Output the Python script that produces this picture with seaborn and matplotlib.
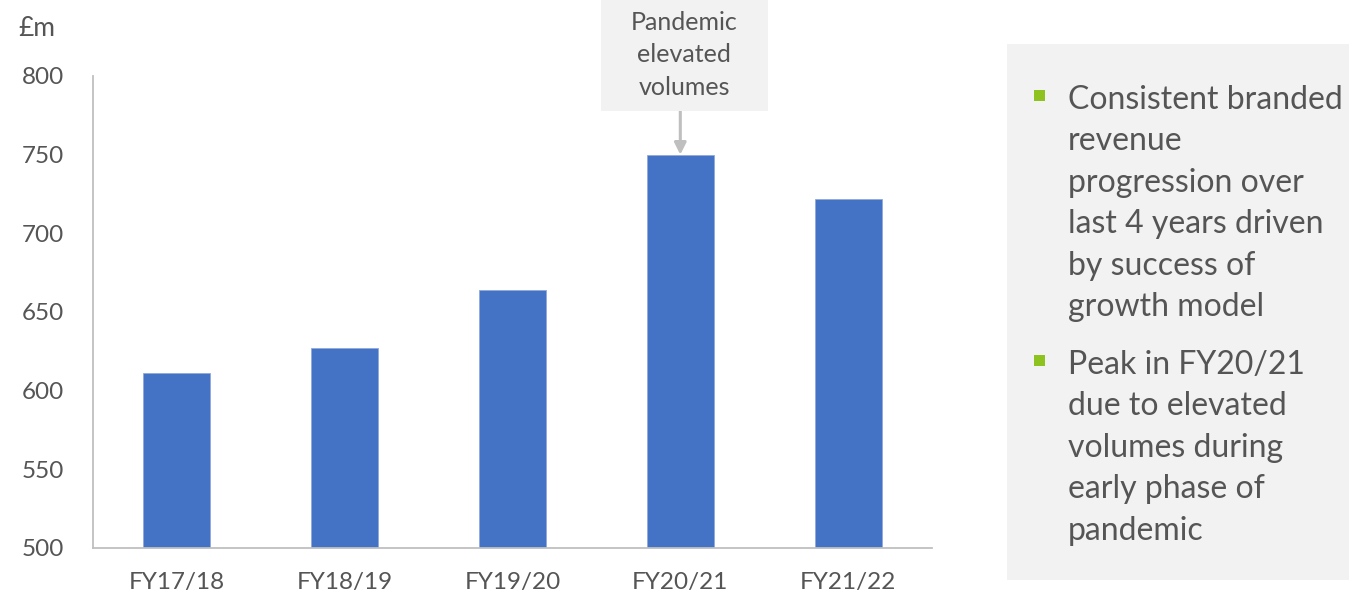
import matplotlib
matplotlib.use("Agg")
import matplotlib.pyplot as plt
import seaborn as sns
import pandas as pd
from matplotlib.patches import Rectangle

# Branded revenue by financial year (£m)
years = ["FY17/18", "FY18/19", "FY19/20", "FY20/21", "FY21/22"]
revenue = [611, 627, 664, 750, 722]
y_ticks = [500, 550, 600, 650, 700, 750, 800]

callout_text = "Pandemic\nelevated\nvolumes"
callout_year = "FY20/21"
bullets = [
    "Consistent branded\nrevenue\nprogression over\nlast 4 years driven\nby success of\ngrowth model",
    "Peak in FY20/21\ndue to elevated\nvolumes during\nearly phase of\npandemic",
]

sns.set_style("white")
plt.rcParams["font.family"] = ["Lato", "DejaVu Sans"]

TEXT = "#555555"
AXIS = "#BFBFBF"
BAR = "#4472C4"
PANEL = "#F2F2F2"
GREEN = "#8DC21F"

W, H = 1349, 599
fig = plt.figure(figsize=(W / 100, H / 100), dpi=100)

def fx(px):
    return px / W

def fy(py):
    return 1 - py / H

ax = fig.add_axes([fx(93), fy(548), fx(932) - fx(93), fy(76) - fy(548)])

df = pd.DataFrame({"year": years, "revenue": revenue})
sns.barplot(data=df, x="year", y="revenue", color=BAR, width=0.4,
            edgecolor="#8FAADC", linewidth=0.6, saturation=1, ax=ax)

ax.set_ylim(500, 800)
ax.set_xlim(-0.5, len(years) - 0.5)
ax.set_yticks(y_ticks)
ax.set_xlabel("")
ax.set_ylabel("")
for s in ["top", "right"]:
    ax.spines[s].set_visible(False)
for s in ["left", "bottom"]:
    ax.spines[s].set_color(AXIS)
    ax.spines[s].set_linewidth(1.3)
ax.tick_params(axis="y", length=8, width=1.3, color=AXIS, pad=13,
               labelsize=17.5, labelcolor=TEXT)
ax.tick_params(axis="x", length=0, pad=17, labelsize=17.5, labelcolor=TEXT)
ax.spines["bottom"].set_bounds(-0.5, len(years) - 0.5)

fig.text(fx(18), fy(28), "£m", fontsize=19, color=TEXT, va="center", ha="left")

# Callout above the peak year
xi = years.index(callout_year)
peak = revenue[xi]
fig.patches.append(Rectangle((fx(601), fy(111)), fx(768) - fx(601), fy(0) - fy(111),
                             transform=fig.transFigure, facecolor=PANEL,
                             edgecolor="none", zorder=0))
fig.text(fx(684), fy(55), callout_text, fontsize=18, color=TEXT,
         ha="center", va="center", linespacing=1.5)
ax.annotate("", xy=(xi, peak), xytext=(xi, 800 + 26),
            textcoords="data", annotation_clip=False,
            arrowprops=dict(arrowstyle="-|>,head_length=0.7,head_width=0.35",
                            color=AXIS, lw=2.2, shrinkA=0, shrinkB=0))

# Commentary panel
fig.patches.append(Rectangle((fx(1007), fy(580)), fx(1349) - fx(1007), fy(44) - fy(580),
                             transform=fig.transFigure, facecolor=PANEL,
                             edgecolor="none", zorder=0))
starts = [99, 364]
for text, yc in zip(bullets, starts):
    fig.patches.append(Rectangle((fx(1034), fy(yc + 2)), fx(11), fy(0) - fy(11),
                                 transform=fig.transFigure, facecolor=GREEN,
                                 edgecolor="none", zorder=1))
    fig.text(fx(1068), fy(yc - 14), text, fontsize=23, color=TEXT,
             ha="left", va="top", linespacing=1.475)

fig.savefig("out.png", dpi=100)
